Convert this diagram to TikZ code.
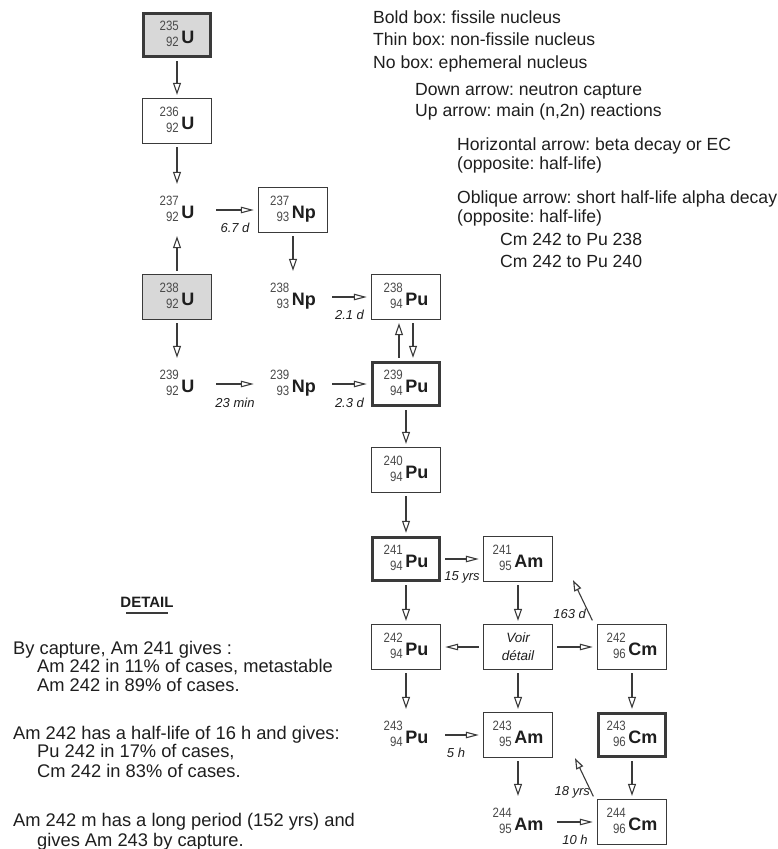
\documentclass[tikz,border=0pt]{standalone}
\usepackage{fontspec}
\usepackage{graphicx}
\setmainfont{Liberation Sans}
\usetikzlibrary{arrows.meta,positioning,calc}
\definecolor{inkgray}{HTML}{1E1E1E}
\definecolor{numgray}{HTML}{4A4A4A}
\definecolor{linegray}{HTML}{3A3A3A}
\definecolor{oregray}{HTML}{D8D8D8}
\frenchspacing

% nuclide: mass number over atomic number, then the symbol
\newcommand{\nuc}[3]{{\fontsize{13.5}{16.5}\selectfont\color{numgray}\scalebox{0.85}[1]{\begin{tabular}{@{}r@{}}#1\\#2\end{tabular}}}\hspace{2.5pt}\raisebox{-5pt}{\fontsize{18}{18}\selectfont\bfseries #3}}

\begin{document}
\begin{tikzpicture}[x=1pt,y=-1pt,
    nucbox/.style={draw=linegray,line width=1.3pt,minimum width=69pt,minimum height=45pt,inner sep=2pt,text=inkgray},
    fissile/.style={nucbox,line width=3.4pt,minimum width=67pt,minimum height=43pt},
    ephemeral/.style={nucbox,draw=none},
    oxide/.style={fill=oregray},
    capture/.style={-{Triangle[open,length=12pt,width=8pt]},draw=linegray,line width=1.1pt,shorten <=3pt,shorten >=3pt},
    decay/.style={-{Triangle[open,length=13pt,width=6.5pt]},draw=linegray,line width=1.1pt,shorten <=4pt,shorten >=4pt},
    alphaarrow/.style={-{Triangle[open,length=11pt,width=7.5pt]},draw=linegray,line width=1.1pt},
    halflife/.style={font=\fontsize{13}{13}\selectfont\itshape,text=inkgray,inner sep=0pt},
    legtext/.style={anchor=base west,inner sep=0pt,font=\fontsize{17.6}{17.6}\selectfont,text=inkgray},
    dettext/.style={legtext,font=\fontsize{18.3}{18.3}\selectfont}]
  \useasboundingbox (0,0) rectangle (778,849);

  % uranium column
  \node[fissile,oxide] (U235) at (177,35) {\nuc{235}{92}{U}};
  \node[nucbox] (U236) at (177,121) {\nuc{236}{92}{U}};
  \node[ephemeral] (U237) at (177,210) {\nuc{237}{92}{U}};
  \node[nucbox,oxide] (U238) at (177,297) {\nuc{238}{92}{U}};
  \node[ephemeral] (U239) at (177,384) {\nuc{239}{92}{U}};

  % neptunium
  \node[nucbox] (Np237) at (293,210) {\nuc{237}{93}{Np}};
  \node[ephemeral] (Np238) at (293,297) {\nuc{238}{93}{Np}};
  \node[ephemeral] (Np239) at (293,384) {\nuc{239}{93}{Np}};

  % plutonium
  \node[nucbox] (Pu238) at (406,297) {\nuc{238}{94}{Pu}};
  \node[fissile] (Pu239) at (406,384) {\nuc{239}{94}{Pu}};
  \node[nucbox] (Pu240) at (406,470) {\nuc{240}{94}{Pu}};
  \node[fissile] (Pu241) at (406,559) {\nuc{241}{94}{Pu}};
  \node[nucbox] (Pu242) at (406,647) {\nuc{242}{94}{Pu}};
  \node[ephemeral] (Pu243) at (406,735) {\nuc{243}{94}{Pu}};

  % americium and curium
  \node[nucbox] (Am241) at (518,559) {\nuc{241}{95}{Am}};
  \node[nucbox,align=center,font=\fontsize{13.5}{18}\selectfont\itshape] (voir) at (518,647) {Voir\\détail};
  \node[nucbox] (Am243) at (518,735) {\nuc{243}{95}{Am}};
  \node[ephemeral] (Am244) at (518,822) {\nuc{244}{95}{Am}};
  \node[nucbox] (Cm242) at (632,647) {\nuc{242}{96}{Cm}};
  \node[fissile] (Cm243) at (632,735) {\nuc{243}{96}{Cm}};
  \node[nucbox] (Cm244) at (632,822) {\nuc{244}{96}{Cm}};

  % neutron captures and (n,2n)
  \draw[capture] (U235) -- (U236);
  \draw[capture] (U236) -- (U237);
  \draw[capture] (U238) -- (U237);
  \draw[capture] (U238) -- (U239);
  \draw[capture] (Np237) -- (Np238);
  \draw[capture] ([xshift=7pt]Pu238.south) -- ([xshift=7pt]Pu239.north);
  \draw[capture] ([xshift=-7pt]Pu239.north) -- ([xshift=-7pt]Pu238.south);
  \draw[capture] (Pu239) -- (Pu240);
  \draw[capture] (Pu240) -- (Pu241);
  \draw[capture] (Pu241) -- (Pu242);
  \draw[capture] (Am241) -- (voir);
  \draw[capture] (Pu242) -- (Pu243);
  \draw[capture] (voir) -- (Am243);
  \draw[capture] (Cm242) -- (Cm243);
  \draw[capture] (Am243) -- (Am244);
  \draw[capture] (Cm243) -- (Cm244);

  % beta decays
  \draw[decay] (U237) -- (Np237) node[halflife,midway,yshift=-18pt] {6.7 d};
  \draw[decay] (Np238) -- (Pu238) node[halflife,midway,yshift=-18pt] {2.1 d};
  \draw[decay] (U239) -- (Np239) node[halflife,midway,yshift=-19pt] {23 min};
  \draw[decay] (Np239) -- (Pu239) node[halflife,midway,yshift=-19pt] {2.3 d};
  \draw[decay] (Pu241) -- (Am241) node[halflife,midway,yshift=-18pt] {15 yrs};
  \draw[decay] (voir) -- (Pu242);
  \draw[decay] (voir) -- (Cm242);
  \draw[decay] (Pu243) -- (Am243) node[halflife,midway,xshift=-6pt,yshift=-18pt] {5 h};
  \draw[decay] (Am244) -- (Cm244) node[halflife,midway,yshift=-18pt] {10 h};

  % alpha decays
  \coordinate (to163) at (573,580);
  \coordinate (to18) at (575,758);
  \draw[alphaarrow] ([shift={(-4.5,-3.5)}]Cm242.north west) -- (to163) node[halflife,pos=0.15,left=3pt] {163 d};
  \draw[alphaarrow] ([shift={(-3.5,-2.5)}]Cm244.north west) -- (to18) node[halflife,pos=0.1,left=1pt] {18 yrs};

  % legend
  \node[legtext] (leg1) at (373,23) {Bold box: fissile nucleus};
  \node[legtext] (leg2) at (373,45) {Thin box: non-fissile nucleus};
  \node[legtext] (leg3) at (373,68) {No box: ephemeral nucleus};
  \node[legtext] (leg4) at (415,95) {Down arrow: neutron capture};
  \node[legtext] (leg5) at (415,116) {Up arrow: main (n,2n) reactions};
  \node[legtext] (leg6) at (457,150) {Horizontal arrow: beta decay or EC};
  \node[legtext] (leg7) at (457,169) {(opposite: half-life)};
  \node[legtext] (leg8) at (457,203) {Oblique arrow: short half-life alpha decay};
  \node[legtext] (leg9) at (457,222) {(opposite: half-life)};
  \node[legtext] (leg10) at (500,245) {Cm 242 to Pu 238};
  \node[legtext] (leg11) at (500,267) {Cm 242 to Pu 240};

  % detail
  \node[anchor=base,inner sep=0pt,font=\fontsize{15}{15}\selectfont\bfseries,text=inkgray] (detail) at (147,607) {DETAIL};
  \draw[linegray,line width=1.2pt] ([xshift=6pt,yshift=-6pt]detail.base west) -- ([xshift=-6pt,yshift=-6pt]detail.base east);
  \node[dettext] (det1) at (13,654) {By capture, Am 241 gives :};
  \node[dettext] (det2) at (37,672) {Am 242 in 11\% of cases, metastable};
  \node[dettext] (det3) at (37,691) {Am 242 in 89\% of cases.};
  \node[dettext] (det4) at (13,739) {Am 242 has a half-life of 16 h and gives:};
  \node[dettext] (det5) at (37,757) {Pu 242 in 17\% of cases,};
  \node[dettext] (det6) at (37,777) {Cm 242 in 83\% of cases.};
  \node[dettext] (det7) at (13,826) {Am 242 m has a long period (152 yrs) and};
  \node[dettext] (det8) at (37,846) {gives Am 243 by capture.};
\end{tikzpicture}
\end{document}
